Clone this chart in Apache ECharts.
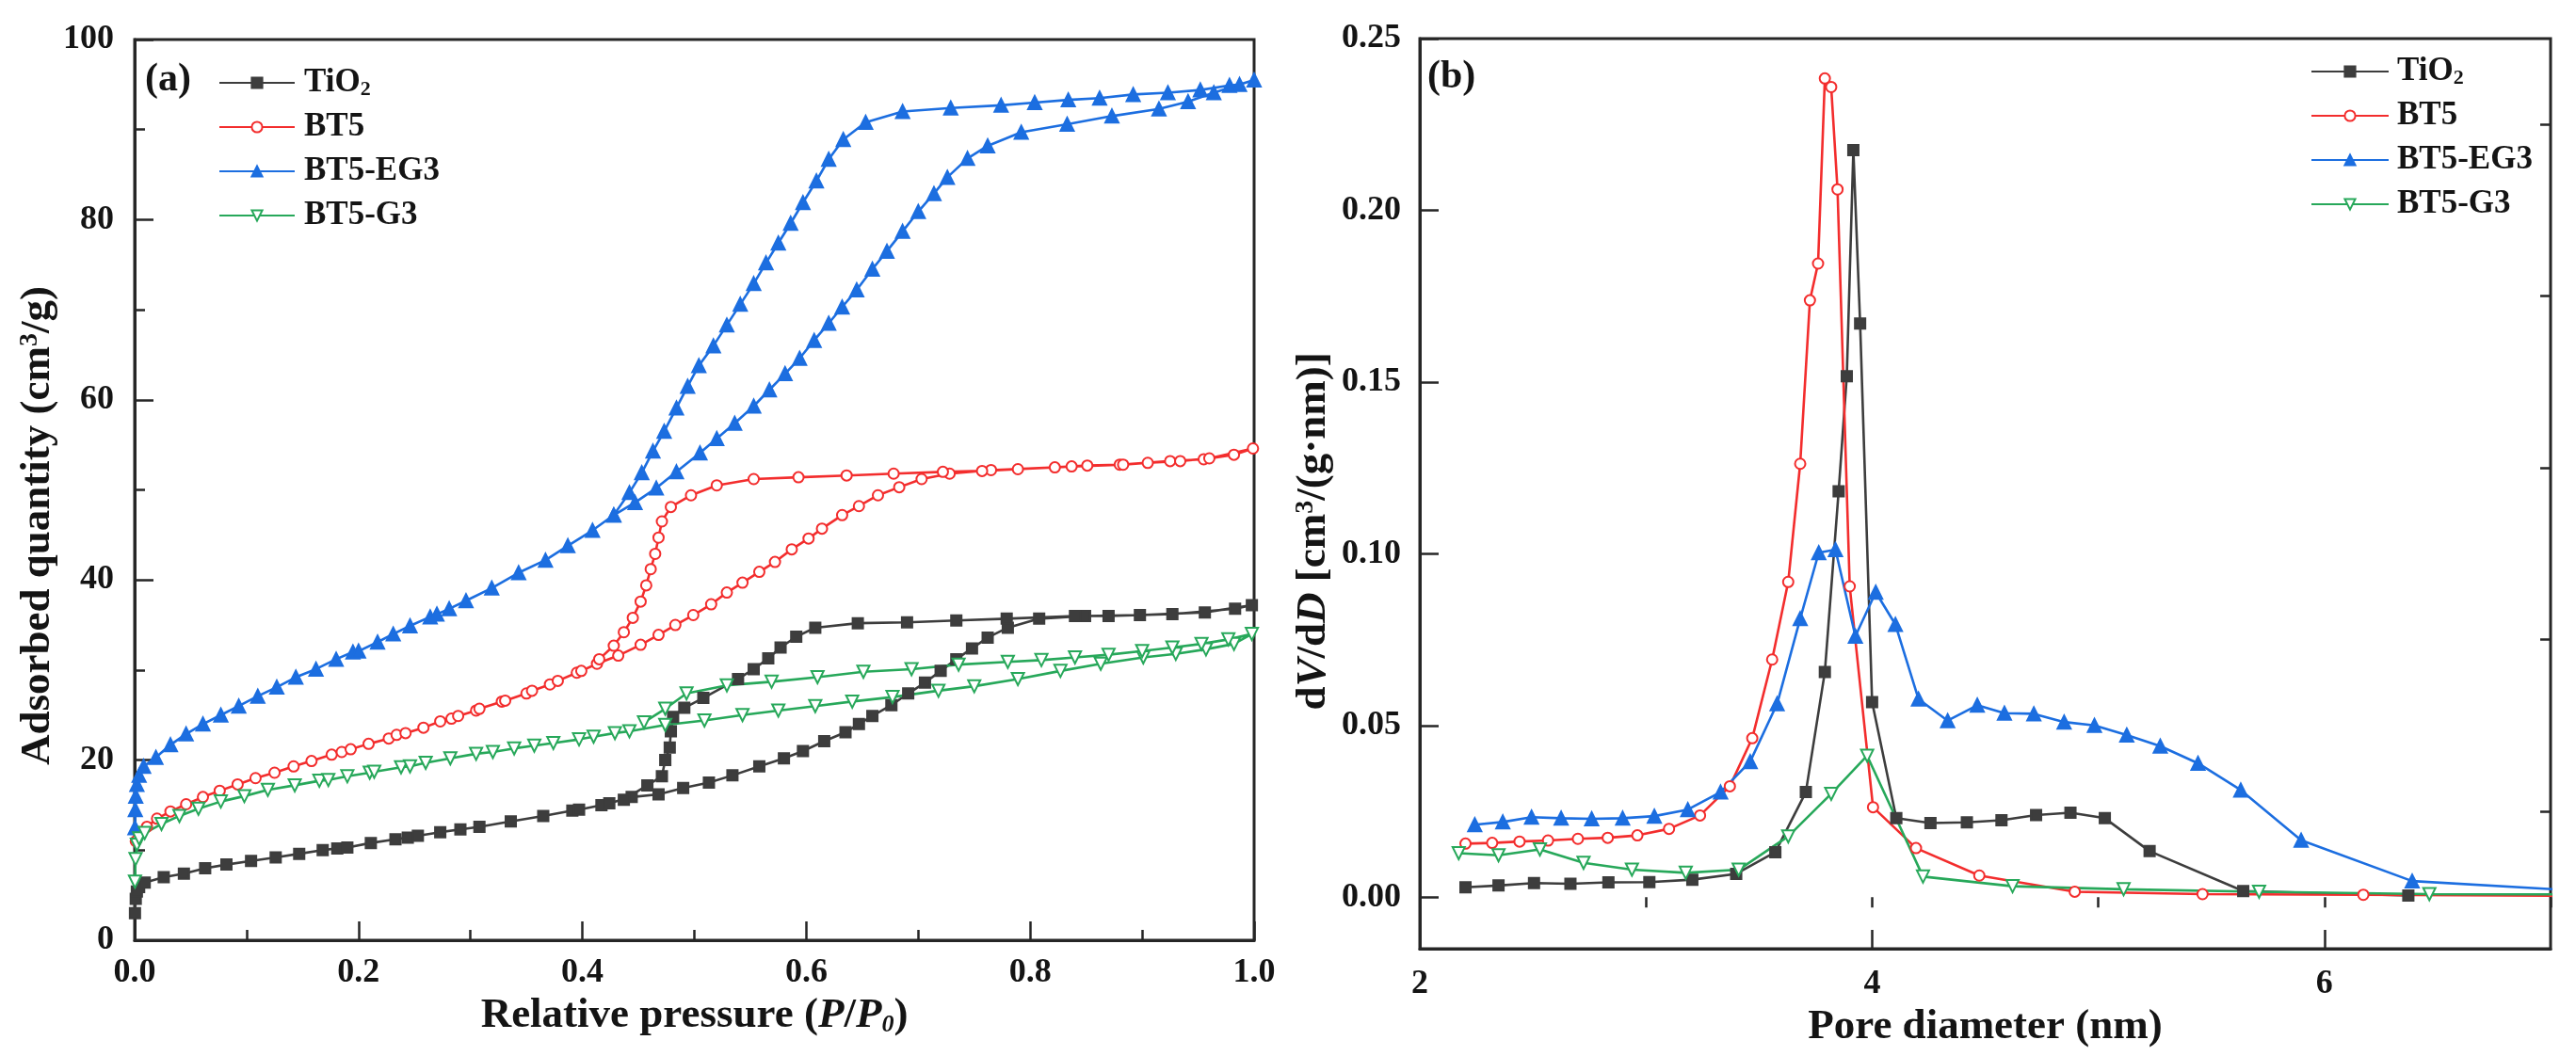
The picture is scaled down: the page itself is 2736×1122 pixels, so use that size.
<!DOCTYPE html>
<html>
<head>
<meta charset="utf-8">
<script src="https://cdn.jsdelivr.net/npm/echarts@6/dist/echarts.min.js"></script>
<style>
html,body{margin:0;padding:0;background:#fff;}
#chart{width:2736px;height:1122px;}
</style>
</head>
<body>
<div id="chart"></div>
<script>
// ---------- (a) N2 adsorption-desorption isotherms: [P/P0, quantity] ----------
const tio2Iso = [
 [0.0003,3.0],[0.001,4.6],[0.002,5.4],[0.004,5.9],[0.009,6.4],[0.026,7.0],[0.044,7.4],[0.063,8.0],[0.082,8.4],
 [0.104,8.8],[0.126,9.2],[0.147,9.6],[0.168,10.0],[0.181,10.2],[0.190,10.3],[0.211,10.8],[0.233,11.2],[0.244,11.4],
 [0.253,11.6],[0.273,12.0],[0.291,12.3],[0.308,12.6],[0.336,13.2],[0.365,13.8],[0.391,14.4],[0.397,14.5],[0.417,15.0],
 [0.424,15.2],[0.444,15.9],[0.468,16.2],[0.490,16.9],[0.513,17.5],[0.534,18.3],[0.558,19.3],[0.580,20.2],[0.597,21.0],
 [0.616,22.1],[0.635,23.1],[0.647,24.0],[0.659,24.9],[0.676,26.1],[0.691,27.4],[0.706,28.6],[0.720,29.9],[0.734,31.2],
 [0.748,32.4],[0.762,33.6],[0.780,34.7],[0.808,35.7],[0.849,36.0],[0.898,36.1],[0.956,36.4],[0.998,37.2],
 [0.983,36.8],[0.927,36.2],[0.870,36.0],[0.840,36.0],[0.779,35.7],[0.734,35.5],[0.690,35.3],[0.646,35.2],[0.608,34.7],
 [0.591,33.7],[0.577,32.5],[0.566,31.3],[0.553,30.1],[0.539,29.0],[0.508,26.9],[0.491,25.8],[0.481,24.8],[0.479,23.2],
 [0.478,21.4],[0.474,20.0],[0.471,18.2],[0.458,17.2],[0.437,15.6]
];
const bt5Iso = [
 [0.001,11.0],[0.004,12.0],[0.011,12.6],[0.020,13.5],[0.032,14.3],[0.046,15.1],[0.061,15.9],[0.076,16.6],[0.092,17.3],
 [0.108,18.0],[0.125,18.6],[0.142,19.3],[0.158,19.9],[0.176,20.6],[0.185,20.9],[0.193,21.2],[0.209,21.8],[0.227,22.4],
 [0.234,22.8],[0.242,23.0],[0.258,23.6],[0.273,24.3],[0.283,24.6],[0.289,24.9],[0.305,25.5],[0.308,25.7],[0.328,26.5],
 [0.331,26.6],[0.350,27.4],[0.355,27.7],[0.371,28.4],[0.378,28.8],[0.395,29.7],[0.399,29.9],[0.413,30.7],[0.432,31.6],
 [0.452,32.8],[0.468,33.9],[0.483,35.0],[0.499,36.1],[0.515,37.3],[0.529,38.6],[0.543,39.7],[0.558,40.9],[0.572,42.0],
 [0.587,43.4],[0.602,44.6],[0.614,45.7],[0.632,47.2],[0.647,48.2],[0.664,49.4],[0.683,50.3],[0.703,51.2],[0.728,51.8],
 [0.765,52.2],[0.822,52.5],[0.851,52.7],[0.880,52.8],[0.925,53.2],[0.955,53.4],[0.982,53.9],[0.999,54.6],
 [0.960,53.5],[0.934,53.2],[0.905,53.0],[0.883,52.8],[0.837,52.6],[0.789,52.3],[0.757,52.1],[0.722,52.0],[0.678,51.8],
 [0.636,51.6],[0.593,51.4],[0.553,51.2],[0.520,50.5],[0.497,49.4],[0.479,48.1],[0.471,46.5],[0.468,44.7],[0.465,42.9],
 [0.461,41.2],[0.457,39.4],[0.452,37.6],[0.445,35.8],[0.437,34.2],[0.428,32.7],[0.415,31.2]
];
const eg3Iso = [
 [0.0003,12.5],[0.0006,14.5],[0.001,16.0],[0.002,17.3],[0.004,18.3],[0.008,19.3],[0.019,20.3],[0.032,21.7],[0.046,22.9],
 [0.061,24.0],[0.077,25.0],[0.093,26.0],[0.110,27.1],[0.127,28.1],[0.144,29.2],[0.162,30.1],[0.180,31.2],[0.195,32.0],
 [0.200,32.1],[0.217,33.1],[0.231,34.0],[0.246,34.9],[0.264,35.9],[0.270,36.2],[0.281,36.8],[0.296,37.7],[0.319,39.1],
 [0.343,40.8],[0.367,42.2],[0.387,43.8],[0.409,45.5],[0.428,47.2],[0.447,48.6],[0.466,50.2],[0.484,52.0],[0.505,54.1],
 [0.520,55.7],[0.536,57.4],[0.553,59.3],[0.567,61.1],[0.581,62.9],[0.594,64.6],[0.607,66.6],[0.620,68.5],[0.632,70.3],
 [0.645,72.2],[0.659,74.5],[0.672,76.5],[0.686,78.7],[0.700,80.9],[0.714,82.9],[0.726,84.7],[0.744,86.8],[0.762,88.2],
 [0.792,89.7],[0.833,90.6],[0.873,91.5],[0.915,92.3],[0.941,93.1],[0.964,94.1],[1.000,95.5],
 [0.987,95.0],[0.978,94.9],[0.952,94.4],[0.923,94.1],[0.892,93.9],[0.862,93.5],[0.834,93.3],[0.804,93.0],[0.774,92.7],
 [0.729,92.4],[0.686,92.0],[0.653,90.8],[0.633,88.9],[0.620,86.7],[0.609,84.3],[0.597,81.9],[0.586,79.6],[0.575,77.4],
 [0.564,75.2],[0.553,72.9],[0.541,70.6],[0.529,68.3],[0.517,66.0],[0.504,63.8],[0.494,61.5],[0.484,59.1],[0.473,56.5],
 [0.463,54.3],[0.453,51.9],[0.442,49.7],[0.428,47.2]
];
const g3Iso = [
 [0.0003,6.5],[0.0008,9.0],[0.002,10.6],[0.004,11.3],[0.009,11.9],[0.024,12.9],[0.040,13.8],[0.057,14.6],[0.077,15.4],
 [0.098,16.0],[0.119,16.7],[0.143,17.2],[0.165,17.7],[0.173,17.8],[0.190,18.2],[0.210,18.6],[0.214,18.7],[0.238,19.2],
 [0.246,19.3],[0.260,19.7],[0.282,20.2],[0.305,20.7],[0.320,20.9],[0.339,21.3],[0.357,21.6],[0.374,21.9],[0.397,22.3],
 [0.410,22.6],[0.429,23.0],[0.442,23.2],[0.474,23.9],[0.509,24.4],[0.543,25.0],[0.575,25.5],[0.608,26.0],[0.641,26.5],
 [0.677,27.0],[0.718,27.7],[0.750,28.2],[0.789,29.0],[0.827,29.9],[0.863,30.7],[0.901,31.4],[0.930,31.8],[0.957,32.3],
 [0.982,32.9],[0.998,34.0],
 [0.977,33.4],[0.953,32.9],[0.927,32.5],[0.900,32.1],[0.870,31.7],[0.840,31.4],[0.810,31.1],[0.780,30.9],[0.736,30.6],
 [0.694,30.1],[0.651,29.8],[0.610,29.2],[0.569,28.7],[0.529,28.3],[0.493,27.4],[0.474,25.7],[0.455,24.2]
];

// ---------- (b) pore size distributions: [pore diameter nm, dV/dD] ----------
const tio2Psd = [
 [2.202,0.0029],[2.348,0.0034],[2.505,0.0041],[2.666,0.0039],[2.834,0.0043],[3.015,0.0044],[3.205,0.0051],[3.399,0.0068],
 [3.572,0.0131],[3.707,0.0306],[3.791,0.0656],[3.852,0.1182],[3.888,0.1517],[3.917,0.2175],[3.947,0.1670],[4.000,0.0568],
 [4.107,0.0230],[4.258,0.0216],[4.419,0.0218],[4.572,0.0224],[4.725,0.0239],[4.877,0.0246],[5.029,0.0230],[5.227,0.0134],
 [5.641,0.0018],[6.371,0.0005]
];
const bt5Psd = [
 [2.202,0.0156],[2.320,0.0158],[2.441,0.0162],[2.567,0.0165],[2.699,0.0170],[2.831,0.0173],[2.962,0.0180],[3.102,0.0199],
 [3.239,0.0238],[3.371,0.0323],[3.470,0.0463],[3.558,0.0692],[3.629,0.0918],[3.682,0.1262],[3.725,0.1738],[3.761,0.1845],
 [3.791,0.2384],[3.819,0.2359],[3.847,0.2061],[3.901,0.0905],[4.004,0.0262],[4.194,0.0143],[4.474,0.0063],[4.896,0.0016],
 [5.461,0.0009],[6.172,0.0007],[7.3,0.0003]
];
const eg3Psd = [
 [2.243,0.0211],[2.367,0.0219],[2.494,0.0233],[2.625,0.0230],[2.760,0.0228],[2.897,0.0230],[3.037,0.0236],[3.185,0.0255],
 [3.330,0.0306],[3.461,0.0395],[3.580,0.0563],[3.682,0.0811],[3.764,0.1003],[3.838,0.1012],[3.926,0.0760],[4.016,0.0888],
 [4.103,0.0794],[4.205,0.0577],[4.334,0.0514],[4.465,0.0559],[4.585,0.0536],[4.715,0.0534],[4.849,0.0510],[4.983,0.0500],
 [5.126,0.0472],[5.274,0.0440],[5.441,0.0390],[5.630,0.0312],[5.897,0.0166],[6.388,0.0047],[7.3,0.0012]
];
const g3Psd = [
 [2.172,0.0128],[2.348,0.0122],[2.531,0.0139],[2.724,0.0100],[2.938,0.0080],[3.176,0.0071],[3.410,0.0080],[3.629,0.0177],
 [3.819,0.0301],[3.978,0.0412],[4.225,0.0060],[4.621,0.0032],[5.112,0.0023],[5.711,0.0016],[6.464,0.0009],[7.3,0.0008]
];

const seriesNames = ['TiO2','BT5','BT5-EG3','BT5-G3'];
const psdMajorTicks = [0, 0.05, 0.10, 0.15, 0.20, 0.25];
const psdMinorTicks = [0.025, 0.075, 0.125, 0.175, 0.225];

// ---------- styling ----------
const SERIF = '"Liberation Serif","Times New Roman",serif';
const INK = '#141414';
const AX = '#262626';
const COLORS = {TiO2:'#3d3d3d', BT5:'#f32d2d', 'BT5-EG3':'#1c6ee0', 'BT5-G3':'#27a85a'};
const SYM = {
  TiO2:{symbol:'rect', size:11, rotate:0},
  BT5:{symbol:'emptyCircle', size:11, rotate:0},
  'BT5-EG3':{symbol:'triangle', size:14, rotate:0},
  'BT5-G3':{symbol:'emptyTriangle', size:13, rotate:180}
};

function txt(size, extra){ return Object.assign({fontFamily:SERIF, fontWeight:'bold', fontSize:size, color:INK}, extra||{}); }
const titleRich = {
  sup: txt(28,{verticalAlign:'top', lineHeight:28}),
  i: txt(45,{fontStyle:'italic'}),
  isub: txt(26,{fontStyle:'italic', verticalAlign:'bottom', lineHeight:26})
};
const labelStyle = txt(36);

function mkSeries(name, data, xi, yi){
  const s = SYM[name];
  return {
    name, type:'line', data, xAxisIndex:xi, yAxisIndex:yi,
    symbol:s.symbol, symbolSize:s.size, symbolRotate:s.rotate, showAllSymbol:true,
    lineStyle:{color:COLORS[name], width:2.6},
    itemStyle:{color:COLORS[name], borderColor:COLORS[name], borderWidth:2},
    clip:true, silent:true, z:2
  };
}

const axisLineStyle = {show:true, onZero:false, lineStyle:{color:AX, width:3}};

const option = {
  animation:false,
  backgroundColor:'#fff',
  grid:[
    {left:143, top:42, width:1189, height:957, show:true, borderColor:AX, borderWidth:3, containLabel:false},
    {left:1508, top:41, width:1201, height:967, show:true, borderColor:AX, borderWidth:3, containLabel:false}
  ],
  xAxis:[
    {gridIndex:0, type:'value', min:0, max:1, interval:0.2,
     axisLine:axisLineStyle,
     axisTick:{show:true, inside:true, length:20, lineStyle:{color:AX, width:2.5}},
     minorTick:{show:true, splitNumber:2, length:11, lineStyle:{color:AX, width:2.5}},
     splitLine:{show:false}, minorSplitLine:{show:false},
     axisLabel:Object.assign({margin:17, formatter:v=>v.toFixed(1)}, labelStyle),
     name:'Relative pressure ({i|P}/{i|P}{isub|0})', nameLocation:'middle', nameGap:54,
     nameTextStyle:txt(45,{rich:titleRich})},
    {gridIndex:1, type:'value', min:2, max:7, interval:2,
     axisLine:axisLineStyle,
     axisTick:{show:true, inside:true, length:20, lineStyle:{color:AX, width:2.5}},
     splitLine:{show:false},
     axisLabel:Object.assign({margin:20, showMaxLabel:false, formatter:v=>String(v)}, labelStyle),
     name:'Pore diameter (nm)', nameLocation:'middle', nameGap:45,
     nameTextStyle:txt(45)},
    {gridIndex:1, type:'value', min:2, max:7, interval:1,
     axisLine:{show:false},
     axisTick:{show:true, inside:true, length:11, lineStyle:{color:AX, width:2.5}},
     splitLine:{show:false}, axisLabel:{show:false}}
  ],
  yAxis:[
    {gridIndex:0, type:'value', min:0, max:100, interval:20,
     axisLine:axisLineStyle,
     axisTick:{show:true, inside:true, length:20, lineStyle:{color:AX, width:2.5}},
     minorTick:{show:true, splitNumber:2, length:11, lineStyle:{color:AX, width:2.5}},
     splitLine:{show:false}, minorSplitLine:{show:false},
     axisLabel:Object.assign({margin:22}, labelStyle),
     name:'Adsorbed quantity (cm{sup|3}/g)', nameLocation:'middle', nameGap:52,
     nameTextStyle:txt(45,{rich:titleRich, padding:[0,76,0,0]})},
    {gridIndex:1, type:'value', min:-0.015, max:0.25,
     axisLine:axisLineStyle,
     axisTick:{show:true, inside:true, length:20, customValues:psdMajorTicks, lineStyle:{color:AX, width:2.5}},
     splitLine:{show:false},
     axisLabel:Object.assign({margin:20, customValues:psdMajorTicks, formatter:v=>v.toFixed(2)}, labelStyle),
     name:'d{i|V}/d{i|D} [cm{sup|3}/(g·nm)]', nameLocation:'middle', nameGap:90,
     nameTextStyle:txt(45,{rich:titleRich, padding:[0,80,0,0]})},
    {gridIndex:1, type:'value', min:-0.015, max:0.25,
     axisLine:{show:false},
     axisTick:{show:true, inside:true, length:11, customValues:psdMinorTicks, lineStyle:{color:AX, width:2.5}},
     splitLine:{show:false}, axisLabel:{show:false}}
  ],
  legend:[
    {orient:'vertical', left:227, top:65, itemWidth:80, itemHeight:14, itemGap:11,
     data:seriesNames, selectedMode:false,
     formatter:n=> n==='TiO2' ? 'TiO{sub|2}' : n,
     textStyle:txt(35,{lineHeight:36, padding:[0,0,0,5], rich:{sub:txt(22,{verticalAlign:'bottom', lineHeight:30})}})},
    {orient:'vertical', left:2449, top:53, itemWidth:82, itemHeight:14, itemGap:11,
     data:seriesNames, selectedMode:false,
     formatter:n=> n==='TiO2' ? 'TiO{sub|2}' : n,
     textStyle:txt(35,{lineHeight:36, padding:[0,0,0,4], rich:{sub:txt(22,{verticalAlign:'bottom', lineHeight:30})}})}
  ],
  graphic:[
    {type:'text', left:154, top:64, style:{text:'(a)', fontSize:42, fontFamily:SERIF, fontWeight:'bold', fill:INK}},
    {type:'text', left:1516, top:61, style:{text:'(b)', fontSize:42, fontFamily:SERIF, fontWeight:'bold', fill:INK}}
  ],
  series:[
    mkSeries('TiO2', tio2Iso, 0, 0),
    mkSeries('BT5', bt5Iso, 0, 0),
    mkSeries('BT5-EG3', eg3Iso, 0, 0),
    mkSeries('BT5-G3', g3Iso, 0, 0),
    mkSeries('TiO2', tio2Psd, 1, 1),
    mkSeries('BT5', bt5Psd, 1, 1),
    mkSeries('BT5-EG3', eg3Psd, 1, 1),
    mkSeries('BT5-G3', g3Psd, 1, 1)
  ]
};

const chart = echarts.init(document.getElementById('chart'), null, {renderer:'canvas'});
chart.setOption(option);
</script>
</body>
</html>
